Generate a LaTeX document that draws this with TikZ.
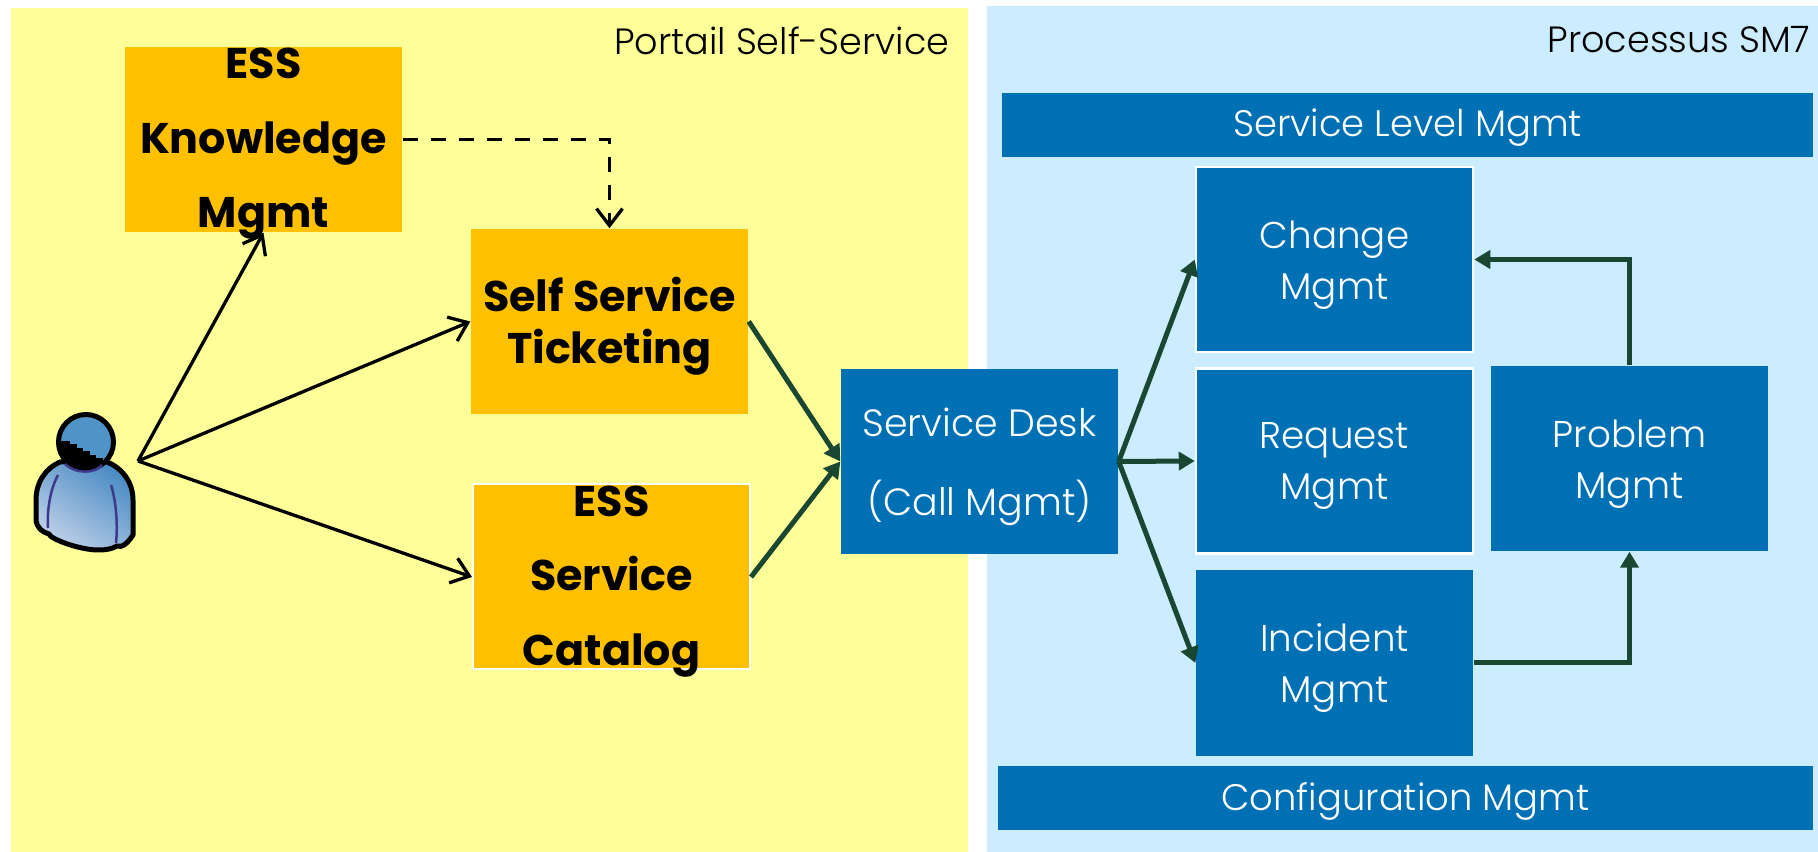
\documentclass[tikz,border=0pt]{standalone}
\usepackage{fontspec}
\setmainfont{Poppins}[UprightFont=* Light,BoldFont=* Bold]
\usetikzlibrary{arrows.meta}
\definecolor{panelyellow}{HTML}{FFFF99}
\definecolor{panelblue}{HTML}{CCECFF}
\definecolor{boxorange}{HTML}{FFC000}
\definecolor{boxblue}{HTML}{0070B5}
\definecolor{flowgreen}{HTML}{1A4731}
\definecolor{userdark}{HTML}{4A8CC4}
\definecolor{userlight}{HTML}{BFD0E8}
\definecolor{userhead}{HTML}{5093C6}
\definecolor{userseam}{HTML}{3D3A8C}
\newcommand{\boxlines}[1]{\raisebox{-1.5mm}[0pt][0pt]{\parbox[c]{27mm}{\centering #1}}}
\tikzset{
  panel/.style={inner sep=0pt,anchor=north west},
  paneltitle/.style={anchor=east,inner sep=0pt,font=\fontsize{10.4}{13}\selectfont},
  orangebox/.style={fill=boxorange,inner sep=0pt,minimum width=27.7mm,minimum height=18.5mm,
    font=\fontsize{12.2}{14.7}\selectfont\bfseries},
  bluebox/.style={fill=boxblue,text=white,inner sep=0pt,minimum width=27.7mm,minimum height=18.5mm,
    font=\fontsize{10.6}{14.5}\selectfont},
  bluebar/.style={fill=boxblue,text=white,inner sep=0pt,minimum height=6.4mm,text height=3.4mm,text depth=1mm,font=\fontsize{10.5}{13}\selectfont},
  userline/.style={line width=0.33mm,-{Straight Barb[length=1.7mm,width=2.6mm]}},
  flowline/.style={line width=0.5mm,flowgreen,-{Triangle[length=1.6mm,width=1.8mm]}},
  seamline/.style={userseam,line width=0.25mm}
}
\begin{document}
\begin{tikzpicture}[x=0.1mm,y=-0.1mm]
	\useasboundingbox (0,0) rectangle (1818,852);
	% panels
	\node[panel,fill=panelyellow,minimum width=95.7mm,minimum height=84.5mm] (portail) at (10,7) {};
	\node[panel,fill=panelblue,minimum width=83.2mm,minimum height=84.7mm] (processus) at (986,5) {};
	\node[paneltitle] (portailtitle) at (950,41) {Portail Self-Service};
	\node[paneltitle] (processustitle) at (1811,40) {Processus SM7};
	% portal boxes
	\node[orangebox,font=\fontsize{12.2}{21.2}\selectfont\bfseries] (knowledge) at (263.5,139.5) {\boxlines{ESS\\Knowledge\\Mgmt}};
	\node[orangebox] (ticketing) at (609.5,321.5) {\boxlines{Self Service\\Ticketing}};
	\node[orangebox,draw=white,line width=0.2mm,font=\fontsize{12.2}{21.2}\selectfont\bfseries] (catalog) at (611.5,577) {\boxlines{ESS\\Service\\Catalog}};
	% process boxes
	\node[bluebar,minimum width=81.1mm] (levelbar) at (1407.5,125) {Service Level Mgmt};
	\node[bluebar,minimum width=81.5mm] (configbar) at (1405.5,798) {Configuration Mgmt};
	\node[bluebox,font=\fontsize{10.8}{22.3}\selectfont] (desk) at (979.5,461.5) {\boxlines{Service Desk\\(Call Mgmt)}};
	\node[bluebox,draw=white,line width=0.25mm] (change) at (1334.5,259.5) {\boxlines{Change\\Mgmt}};
	\node[bluebox,draw=white,line width=0.25mm] (request) at (1334.5,461) {\boxlines{Request\\Mgmt}};
	\node[bluebox] (incident) at (1334.5,663) {\boxlines{Incident\\Mgmt}};
	\node[bluebox] (problem) at (1629.5,458.5) {\boxlines{Problem\\Mgmt}};
	% user figure
	\shade[left color=userdark,right color=userlight,shading angle=-35,draw=black,line width=0.5mm,line join=round]
		(60,462) .. controls (46,468) and (36,482) .. (36,500) -- (36,520) .. controls (37,528) and (42,532) .. (49,534)
		.. controls (50,539) and (80,550) .. (98,550) .. controls (106,550) and (112,549) .. (117,546)
		.. controls (122,548) and (127,544) .. (133,535) -- (133,500) .. controls (133,482) and (122,468) .. (107,462) -- cycle;
	\fill[userhead] (86,442) circle (27.5);
	\begin{scope}
		\clip (86,442) circle (28);
		\foreach \s in {0,...,5}
			\fill[black] (50,441+3.5*\s) rectangle (70+6.5*\s,445+3.5*\s);
		\fill[black] (50,460) rectangle (122,475);
	\end{scope}
	\draw[black,line width=0.5mm] (86,442) circle (27.5);
	\draw[seamline] (65,464) .. controls (75,474) and (95,474) .. (102,465);
	\draw[seamline] (58,475) .. controls (50,490) and (47,510) .. (48,528);
	\draw[seamline] (111,485) .. controls (116,500) and (118,525) .. (116,543);
	\coordinate (user) at (138,461);
	% connectors
	\draw[userline] (user) -- (knowledge.south);
	\draw[userline] (user) -- (ticketing.west);
	\draw[userline] (user) -- (catalog.west);
	\draw[userline,dash pattern=on 1.5mm off 1.3mm] (knowledge.east) -| (ticketing.north);
	\draw[flowline] (ticketing.east) -- (desk.west);
	\draw[flowline] (catalog.east) -- (desk.west);
	\draw[flowline] (desk.east) -- (change.west);
	\draw[flowline] (desk.east) -- (request.west);
	\draw[flowline] (desk.east) -- (incident.west);
	\draw[flowline] (incident.east) -| (problem.south);
	\draw[flowline] (problem.north) |- (change.east);
\end{tikzpicture}
\end{document}
